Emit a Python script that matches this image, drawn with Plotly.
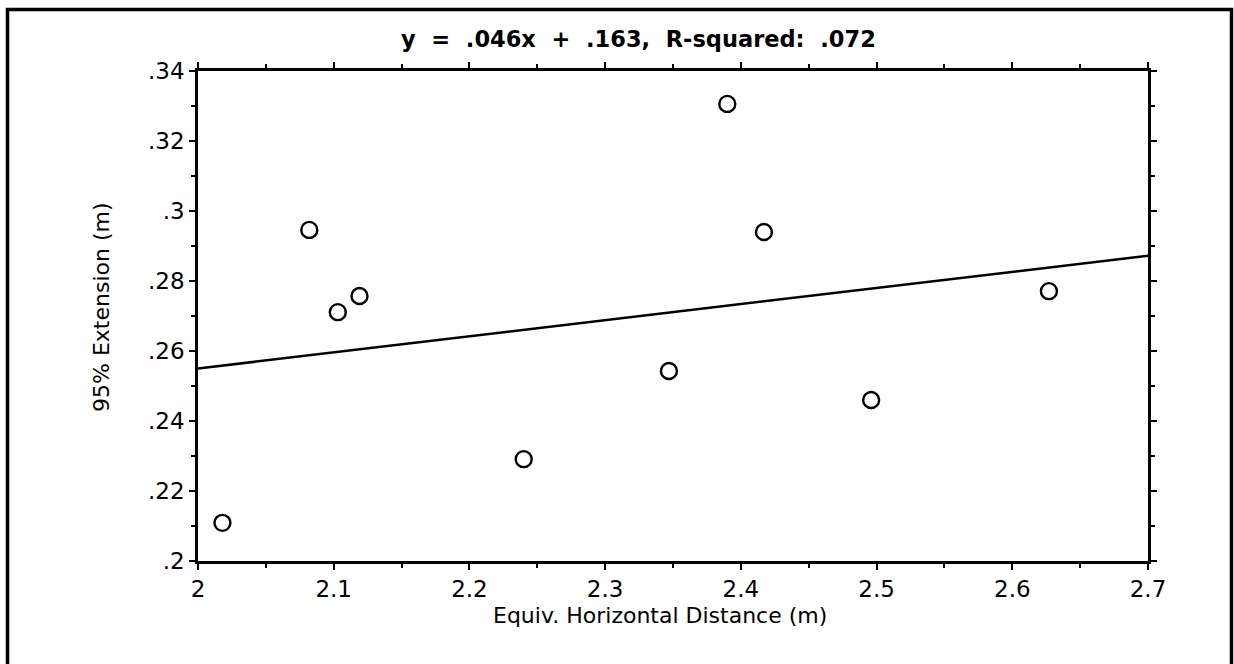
import plotly.graph_objects as go

# Data
x_vals = [2.018, 2.082, 2.103, 2.119, 2.240, 2.347, 2.390, 2.417, 2.496, 2.627]
y_vals = [0.2109, 0.2946, 0.2711, 0.2757, 0.2291, 0.2543, 0.3306, 0.2940, 0.2460, 0.2771]
slope = 0.046
intercept = 0.163
fit_x = [2.0, 2.7]
fit_y = [slope * v + intercept for v in fit_x]

x_tickvals = [2.0, 2.1, 2.2, 2.3, 2.4, 2.5, 2.6, 2.7]
x_ticktext = ["2", "2.1", "2.2", "2.3", "2.4", "2.5", "2.6", "2.7"]
y_tickvals = [0.20, 0.22, 0.24, 0.26, 0.28, 0.30, 0.32, 0.34]
y_ticktext = [".2", ".22", ".24", ".26", ".28", ".3", ".32", ".34"]

title_text = "y  =  .046x  +  .163,  R-squared:  .072"
x_title = "Equiv. Horizontal Distance (m)"
y_title = "95% Extension (m)"

W, H = 1234, 664
L, R, T, B = 198, 1148, 71, 561

def px(x):
    return (x - L) / (R - L)

def py(y):
    return (B - y) / (B - T)

font = "DejaVu Sans"

fig = go.Figure()
fig.add_trace(go.Scatter(x=fit_x, y=fit_y, mode="lines",
                         line=dict(color="black", width=2.5), hoverinfo="skip"))
fig.add_trace(go.Scatter(x=x_vals, y=y_vals, mode="markers",
                         marker=dict(symbol="circle-open", size=16, color="black",
                                     line=dict(width=2.4, color="black"))))

axis_common = dict(showline=True, linecolor="black", linewidth=2.5, mirror="allticks",
                   ticks="outside", ticklen=6, tickwidth=2, tickcolor="black",
                   showgrid=False, zeroline=False,
                   tickfont=dict(family=font, size=23, color="black"))

fig.update_xaxes(range=[2.0, 2.7], tickvals=x_tickvals, ticktext=x_ticktext,
                 minor=dict(ticks="outside", ticklen=4, tickwidth=2, tickcolor="black",
                            dtick=0.05, tick0=2.0),
                 **axis_common)
fig.update_yaxes(range=[0.2, 0.34], tickvals=y_tickvals, ticktext=y_ticktext,
                 minor=dict(ticks="outside", ticklen=4, tickwidth=2, tickcolor="black",
                            dtick=0.01, tick0=0.2),
                 **axis_common)

fig.add_annotation(text="<b>" + title_text + "</b>", xref="paper", yref="paper",
                   x=px(638), y=py(39), xanchor="center", yanchor="middle",
                   showarrow=False, font=dict(family=font, size=22.5, color="black"))
fig.add_annotation(text=x_title, xref="paper", yref="paper",
                   x=px(660), y=py(615), xanchor="center", yanchor="middle",
                   showarrow=False, font=dict(family=font, size=22, color="black"))
fig.add_annotation(text=y_title, xref="paper", yref="paper", textangle=-90,
                   x=px(101), y=py(308), xanchor="center", yanchor="middle",
                   showarrow=False, font=dict(family=font, size=22, color="black"))

fig.add_shape(type="rect", xref="paper", yref="paper",
              x0=px(7.5), x1=px(1231.5), y0=py(672), y1=py(9.5),
              line=dict(color="black", width=3.5), layer="above")

fig.update_layout(width=W, height=H, margin=dict(l=L, r=W - R, t=T, b=H - B),
                  plot_bgcolor="white", paper_bgcolor="white", showlegend=False)

fig.write_html("out.html")
